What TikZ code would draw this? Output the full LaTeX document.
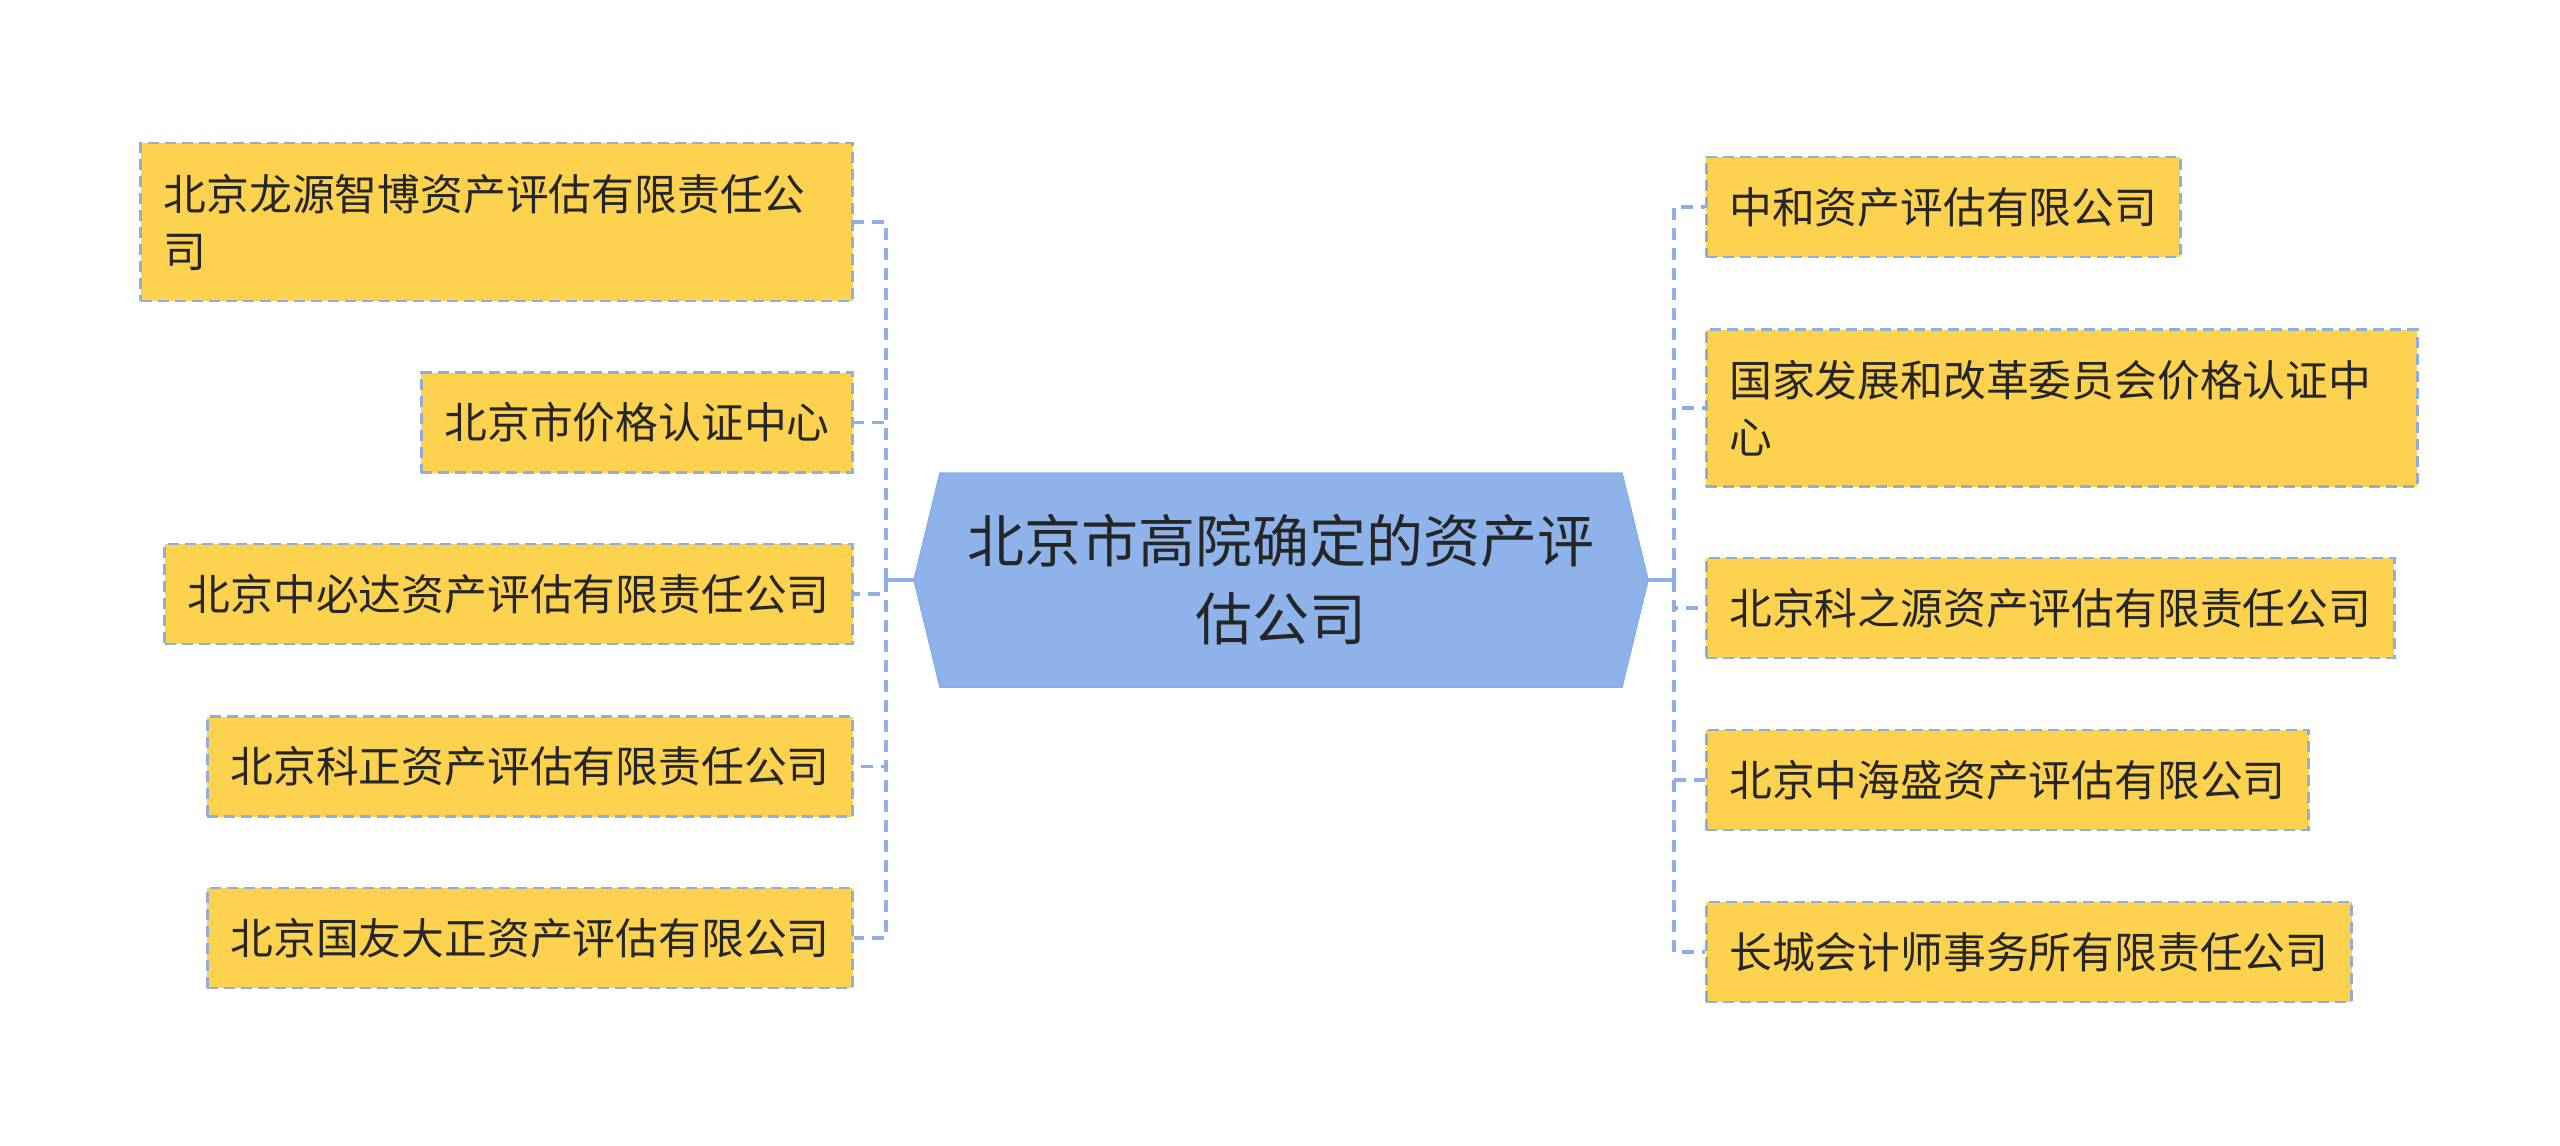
\documentclass[tikz,border=0pt]{standalone}
\usepackage{fontspec}
\newfontfamily\cjk{Noto Sans CJK SC}
\usetikzlibrary{calc}
\definecolor{boxfill}{HTML}{FCD24E}
\definecolor{boxline}{HTML}{8FAEDC}
\definecolor{connc}{HTML}{8EB0E4}
\definecolor{rootfill}{HTML}{8EB3EA}
\definecolor{rootline}{HTML}{88AEE6}
\definecolor{txt}{HTML}{262626}
\begin{document}
\begin{tikzpicture}[x=1pt,y=-1pt,
  leaf/.style={draw=boxline, line width=2.7pt, dash pattern=on 11pt off 6pt, fill=boxfill,
    inner xsep=23pt, inner ysep=0pt, minimum height=100pt,
    font=\cjk\fontsize{42.8}{57}\selectfont, text=txt, align=left},
  conn/.style={draw=connc, line width=3.6pt, dash pattern=on 12pt off 8pt},
  rootconn/.style={draw=connc, line width=3.6pt},
  rootshape/.style={fill=rootfill, draw=rootline, line width=1.5pt},
  roottext/.style={font=\cjk\fontsize{57}{78}\selectfont, text=txt, align=center,
    minimum width=734pt, minimum height=214pt, inner sep=0pt}
]
\useasboundingbox[fill=white] (0,0) rectangle (2560,1146);

% central topic
\coordinate (c) at (1281,580);
\filldraw[rootshape] ($(c)+(-367,0)$) -- ($(c)+(-341,-107)$) -- ($(c)+(341,-107)$)
  -- ($(c)+(367,0)$) -- ($(c)+(341,107)$) -- ($(c)+(-341,107)$) -- cycle;
\node[roottext] (root) at (c) {北京市高院确定的资产评\\估公司};

% left leaves
\node[leaf, anchor=east, text width=666pt, minimum height=158pt] (L1) at (854,222) {北京龙源智博资产评估有限责任公\\司};
\node[leaf, anchor=east] (L2) at (854,422.5) {北京市价格认证中心};
\node[leaf, anchor=east] (L3) at (854,594) {北京中必达资产评估有限责任公司};
\node[leaf, anchor=east] (L4) at (854,766.5) {北京科正资产评估有限责任公司};
\node[leaf, anchor=east] (L5) at (854,938) {北京国友大正资产评估有限公司};

% right leaves
\node[leaf, anchor=west] (R1) at (1705,207) {中和资产评估有限公司};
\node[leaf, anchor=west, text width=665pt, minimum height=157pt] (R2) at (1705,408) {国家发展和改革委员会价格认证中\\心};
\node[leaf, anchor=west] (R3) at (1705,608) {北京科之源资产评估有限责任公司};
\node[leaf, anchor=west] (R4) at (1705,780) {北京中海盛资产评估有限公司};
\node[leaf, anchor=west] (R5) at (1705,952) {长城会计师事务所有限责任公司};

% connectors
\coordinate (lt) at (886,580);
\coordinate (rt) at (1674,580);
\draw[rootconn] (root.west) -- (lt);
\draw[rootconn] (root.east) -- (rt);
\foreach \n in {L1,L2,L3,L4,L5} \draw[conn] (lt) |- (\n.east);
\foreach \n in {R1,R2,R3,R4,R5} \draw[conn] (rt) |- (\n.west);
\end{tikzpicture}
\end{document}
